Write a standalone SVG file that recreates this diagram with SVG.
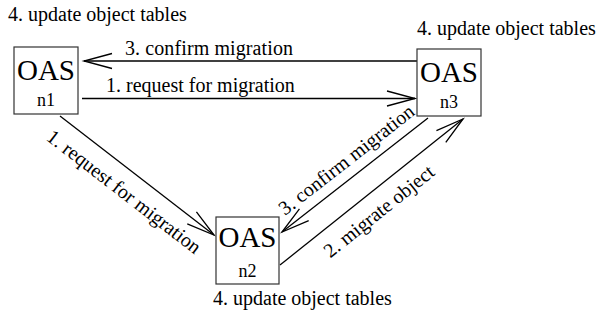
<svg xmlns="http://www.w3.org/2000/svg" width="597" height="322" viewBox="0 0 597 322" font-family="'Liberation Serif', 'Times New Roman', Tinos, 'DejaVu Serif', serif">
<style>
text{font-family:'Liberation Serif','Times New Roman',Tinos,'DejaVu Serif',serif;fill:#000}
.lbl{font-size:20px}
.big{font-size:29px;text-anchor:middle}
.sub{font-size:18px;text-anchor:middle}
.box{fill:#fff;stroke:#333;stroke-width:1.2}
.conn{stroke:#000;stroke-width:1.3;fill:none;marker-end:url(#ah)}
</style>
<defs>
<marker id="ah" markerUnits="userSpaceOnUse" markerWidth="40" markerHeight="30" viewBox="-30 -15 40 30" refX="0" refY="0" orient="auto" overflow="visible">
<path d="M-28,-7.5 L0,0 L-28,7.5" fill="none" stroke="#000" stroke-width="1.3"/>
</marker>
</defs>
<rect width="597" height="322" fill="#fff"/>
<g id="connectors">
<line class="conn" x1="417" y1="61" x2="84" y2="61"/>
<line class="conn" x1="82" y1="98.5" x2="415" y2="98.5"/>
<line class="conn" x1="60" y1="116" x2="214" y2="235"/>
<line class="conn" x1="428" y1="118" x2="282" y2="232"/>
<line class="conn" x1="280" y1="265" x2="463" y2="119"/>
</g>
<g id="connector-labels">
<text class="lbl" x="125" y="55" textLength="168" lengthAdjust="spacing">3. confirm migration</text>
<text class="lbl" x="106" y="92">1. request for migration</text>
<text class="lbl" text-anchor="middle" transform="translate(120,197) rotate(37.7)">1. request for migration</text>
<text class="lbl" text-anchor="middle" transform="translate(350.5,165) rotate(-38)">3. confirm migration</text>
<text class="lbl" text-anchor="middle" transform="translate(383,216.5) rotate(-38.6)">2. migrate object</text>
</g>
<g id="n1">
<rect class="box" x="14" y="47" width="64" height="67"/>
<text class="big" x="46" y="80">OAS</text>
<text class="sub" x="46" y="106">n1</text>
<text class="lbl" x="8" y="21">4. update object tables</text>
</g>
<g id="n3">
<rect class="box" x="417" y="49" width="64" height="67"/>
<text class="big" x="449" y="82">OAS</text>
<text class="sub" x="449" y="108">n3</text>
<text class="lbl" x="417" y="35">4. update object tables</text>
</g>
<g id="n2">
<rect class="box" x="216" y="217" width="63" height="67"/>
<text class="big" x="247.5" y="247">OAS</text>
<text class="sub" x="247.5" y="277">n2</text>
<text class="lbl" x="213" y="305">4. update object tables</text>
</g>
</svg>
